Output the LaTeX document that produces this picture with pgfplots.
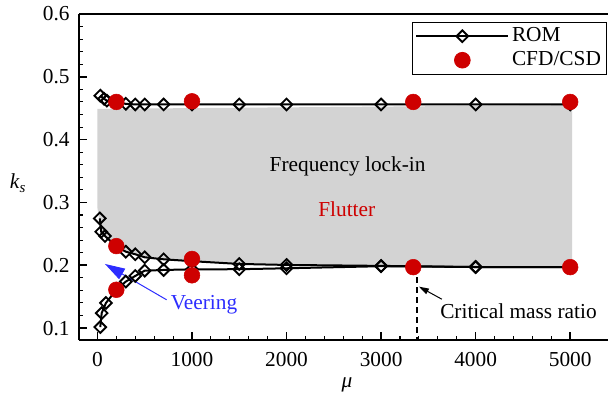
\documentclass[border=0pt]{standalone}
\usepackage{fontspec}
\setmainfont{Liberation Serif}
\usepackage{pgfplots}
\pgfplotsset{compat=1.18}
\usetikzlibrary{arrows.meta}

\definecolor{cfdred}{RGB}{206,0,0}
\definecolor{lockgray}{RGB}{211,211,211}
\definecolor{veerblue}{RGB}{45,45,255}

% long legend sample with the mark in the middle
\pgfplotsset{
  legend image code/.code={%
    \draw[#1, mark repeat=2, mark phase=2]
      plot coordinates {(0pt,0pt) (34.5pt,0pt) (69pt,0pt)};}
}

% ROM branches (reduced-order model)
\pgfplotstableread{
mu    ks
30    0.470
70    0.465
100   0.462
200   0.459
300   0.457
400   0.456
500   0.456
700   0.456
1000  0.456
1500  0.456
2000  0.456
3000  0.456
4000  0.456
5000  0.456
}\romA

\pgfplotstableread{
mu    ks
25    0.2746
40    0.2533
80    0.2465
200   0.2300
300   0.2216
400   0.2175
500   0.2127
700   0.2095
1000  0.2065
1500  0.2021
2000  0.2005
3000  0.1990
4000  0.1972
5000  0.1972
}\romB

\pgfplotstableread{
mu    ks
30    0.1016
45    0.1238
90    0.1400
200   0.1610
300   0.1740
400   0.1830
500   0.1914
700   0.1925
1000  0.1935
1500  0.1937
2000  0.1952
3000  0.1985
4000  0.1972
5000  0.1972
}\romC

% coupled CFD/CSD results
\pgfplotstableread{
mu    ks
200   0.460
1000  0.461
3340  0.460
5000  0.460
200   0.2305
200   0.161
1000  0.210
1000  0.184
3340  0.197
5000  0.197
}\cfd

\begin{document}
\fontsize{16}{19}\selectfont
\begin{tikzpicture}
\begin{axis}[
  scale only axis,
  width=396.75pt, height=244.5pt,
  xmin=-195, xmax=5400,
  ymin=0.081, ymax=0.6,
  axis y line*=left,
  axis line style={line width=1.9pt},
  xtick pos=bottom,
  tick align=inside,
  xtick={0,1000,2000,3000,4000,5000},
  ytick={0.1,0.2,0.3,0.4,0.5,0.6},
  minor x tick num=4,
  minor y tick num=4,
  major tick length=6pt,
  minor tick length=3pt,
  every major tick/.style={line width=1.2pt, black},
  every minor tick/.style={line width=0.8pt, black},
  /pgf/number format/assume math mode=true,
  x tick label style={/pgf/number format/set thousands separator={}, yshift=-3.7pt},
  y tick label style={/pgf/number format/fixed, /pgf/number format/fixed zerofill,
                      /pgf/number format/precision=1, xshift=-1.5pt},
  every axis x label/.style={at={(rel axis cs:0.5066,0)}, anchor=center, yshift=-34pt},
  every axis y label/.style={at={(rel axis cs:0,0.4816)}, anchor=center, xshift=-45.75pt},
  xlabel={\textit{μ}},
  ylabel={\textit{k}\textsubscript{\textit{s}}},
  legend style={at={(rel axis cs:0.9975,0.976)}, anchor=north east,
                draw=black, line width=0.6pt, inner xsep=2pt, inner ysep=2pt,
                row sep=1pt, font=\fontsize{16}{19}\selectfont},
  legend cell align=left,
  rom/.style={black, line width=1.5pt, mark=square, mark size=3.1pt,
              mark options={rotate=45, fill=white, line width=1.4pt}},
  clip=false,
]
  \coordinate (ll) at (rel axis cs:0,0);
  \coordinate (ur) at (rel axis cs:1,1);

  % frequency lock-in region
  \addplot[fill=lockgray, draw=none, forget plot] coordinates {
    (0,0.449) (5020,0.455) (5020,0.198) (3000,0.199) (2000,0.2005)
    (1500,0.2021) (1000,0.2065) (700,0.2095) (500,0.2127) (400,0.2175)
    (300,0.2216) (200,0.230) (80,0.2465) (40,0.2533) (0,0.291)
  } --cycle;

  \node[anchor=base] at (axis cs:2646,0.3486) {Frequency lock-in};
  \node[anchor=base, text=cfdred] at (axis cs:2637,0.2771) {Flutter};

  % critical mass ratio marker
  \addplot[black, line width=1.5pt, dash pattern=on 4.5pt off 3pt, forget plot]
    coordinates {(3385,0.197) (3385,0.081)};

  \addplot[rom, forget plot] table[x=mu, y=ks] {\romB};
  \addplot[rom, forget plot] table[x=mu, y=ks] {\romC};
  \addplot[rom] table[x=mu, y=ks] {\romA};
  \addlegendentry{ROM}

  \addplot[only marks, mark=*, mark size=5.9pt, color=cfdred]
    table[x=mu, y=ks] {\cfd};
  \addlegendentry{CFD/CSD}

  % annotations
  \draw[veerblue, line width=0.75pt, -{Triangle[length=15pt, width=9pt]}]
    (axis cs:732,0.145) -- (axis cs:79,0.2021);
  \node[anchor=base, text=veerblue] at (axis cs:1127,0.1298) {Veering};

  \draw[black, line width=0.75pt, -{Triangle[length=7.5pt, width=4.5pt]}]
    (axis cs:3642,0.146) -- (axis cs:3400,0.166);
  \node[anchor=base] at (axis cs:4453,0.1148) {Critical mass ratio};
\end{axis}
\pgfresetboundingbox
\path[use as bounding box] ([xshift=-59.25pt, yshift=-45.75pt]ll) rectangle ([yshift=10.5pt]ur);
\end{tikzpicture}
\end{document}
